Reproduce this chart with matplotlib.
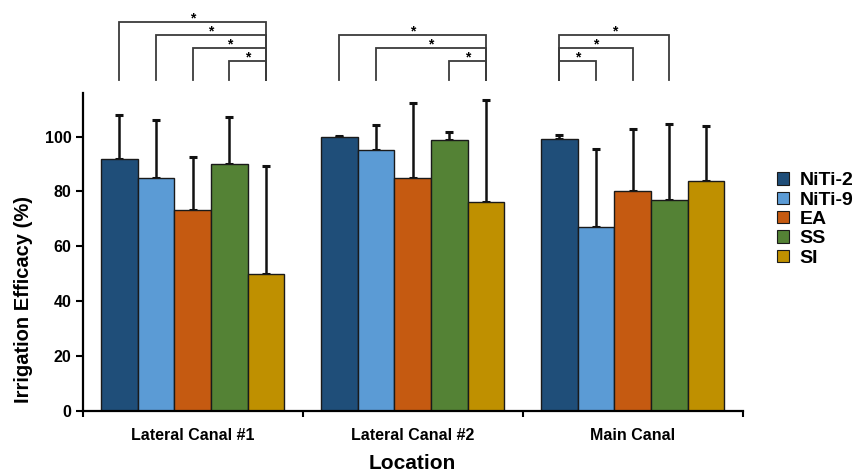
import matplotlib
matplotlib.use("Agg")
import matplotlib.pyplot as plt
import numpy as np
from matplotlib.patches import Patch

plt.rcParams["font.family"] = ["Liberation Sans", "DejaVu Sans"]
plt.rcParams["font.weight"] = "bold"

locations = ["Lateral Canal #1", "Lateral Canal #2", "Main Canal"]
series = ["NiTi-2", "NiTi-9", "EA", "SS", "SI"]
colors = ["#1F4E79", "#5B9BD5", "#C55A11", "#548235", "#BF9000"]

niti2 = [92.0, 99.8, 99.1]
niti9 = [85.0, 95.0, 67.1]
ea = [73.2, 84.8, 80.3]
ss = [90.1, 98.8, 76.9]
si = [50.0, 76.0, 83.9]

niti2_err = [16.0, 0.4, 1.4]
niti9_err = [21.0, 9.2, 28.3]
ea_err = [19.4, 27.5, 22.3]
ss_err = [17.1, 2.8, 27.7]
si_err = [39.4, 37.3, 19.8]

# significance pairs: (location, bar a, bar b, tier)
sig_pairs = [
    (0, 0, 4, 3), (0, 1, 4, 2), (0, 2, 4, 1), (0, 3, 4, 0),
    (1, 0, 4, 2), (1, 1, 4, 1), (1, 3, 4, 0),
    (2, 0, 3, 2), (2, 0, 2, 1), (2, 0, 1, 0),
]

means = [niti2, niti9, ea, ss, si]
errs = [niti2_err, niti9_err, ea_err, ss_err, si_err]

fig = plt.figure(figsize=(8.57, 4.73), dpi=100)
ax = fig.add_axes([0.0965, 0.131, 0.77, 0.672])

w = 1 / 6
x = np.arange(len(locations))
for k, (name, m, e, c) in enumerate(zip(series, means, errs, colors)):
    xs = x + (k - 2) * w
    ax.bar(xs, m, width=w, color=c, edgecolor="#1a1a1a", linewidth=1.0,
           label=name, zorder=2)
    ax.errorbar(xs, m, yerr=[np.zeros(len(m)), e], fmt="none", ecolor="#111111",
                elinewidth=1.8, capsize=3, capthick=2.2, zorder=1)

ax.set_xlim(-0.5, 2.5)
ax.set_ylim(0, 115.8)
ax.set_yticks(np.arange(0, 101, 20))
ax.set_xticks([-0.5, 0.5, 1.5, 2.5])
ax.set_xticklabels([])
ax.set_xticks(x, minor=True)
ax.set_xticklabels(locations, minor=True, fontsize=11.5, fontweight="bold")
ax.tick_params(axis="x", which="minor", length=0, pad=12)
ax.tick_params(axis="x", which="major", length=4, width=1.5, direction="out")
ax.tick_params(axis="y", length=5, width=1.5, labelsize=11.5, pad=3)
for lab in ax.get_yticklabels():
    lab.set_fontweight("bold")

for side in ["top", "right"]:
    ax.spines[side].set_visible(False)
for side in ["left", "bottom"]:
    ax.spines[side].set_linewidth(1.6)

ax.set_ylabel("Irrigation Efficacy (%)", fontsize=14.5, fontweight="bold")
ax.yaxis.set_label_coords(-0.076, 0.352)
ax.set_xlabel("Location", fontsize=15, fontweight="bold", labelpad=8)

# significance brackets
base, step, foot = 127.5, 4.75, 120.6
for loc, a, b, tier in sig_pairs:
    xa = loc + (a - 2) * w
    xb = loc + (b - 2) * w
    y = base + step * tier
    ax.plot([xa, xa, xb, xb], [foot, y, y, foot], color="#3a3a3a", lw=1.3,
            clip_on=False, solid_joinstyle="miter")
    ax.text((xa + xb) / 2, y - 1.4, "*", ha="center", va="bottom", fontsize=10,
            fontweight="bold", clip_on=False)

handles = [Patch(facecolor=c, edgecolor="#1a1a1a", linewidth=0.8) for c in colors]
fig.legend(handles, series, loc="upper left", bbox_to_anchor=(0.898, 0.652),
           frameon=False, handlelength=0.6, handleheight=0.6,
           handletextpad=0.55, labelspacing=0.12, borderaxespad=0,
           prop={"weight": "bold", "size": 14})

fig.savefig("out.png", dpi=100)
